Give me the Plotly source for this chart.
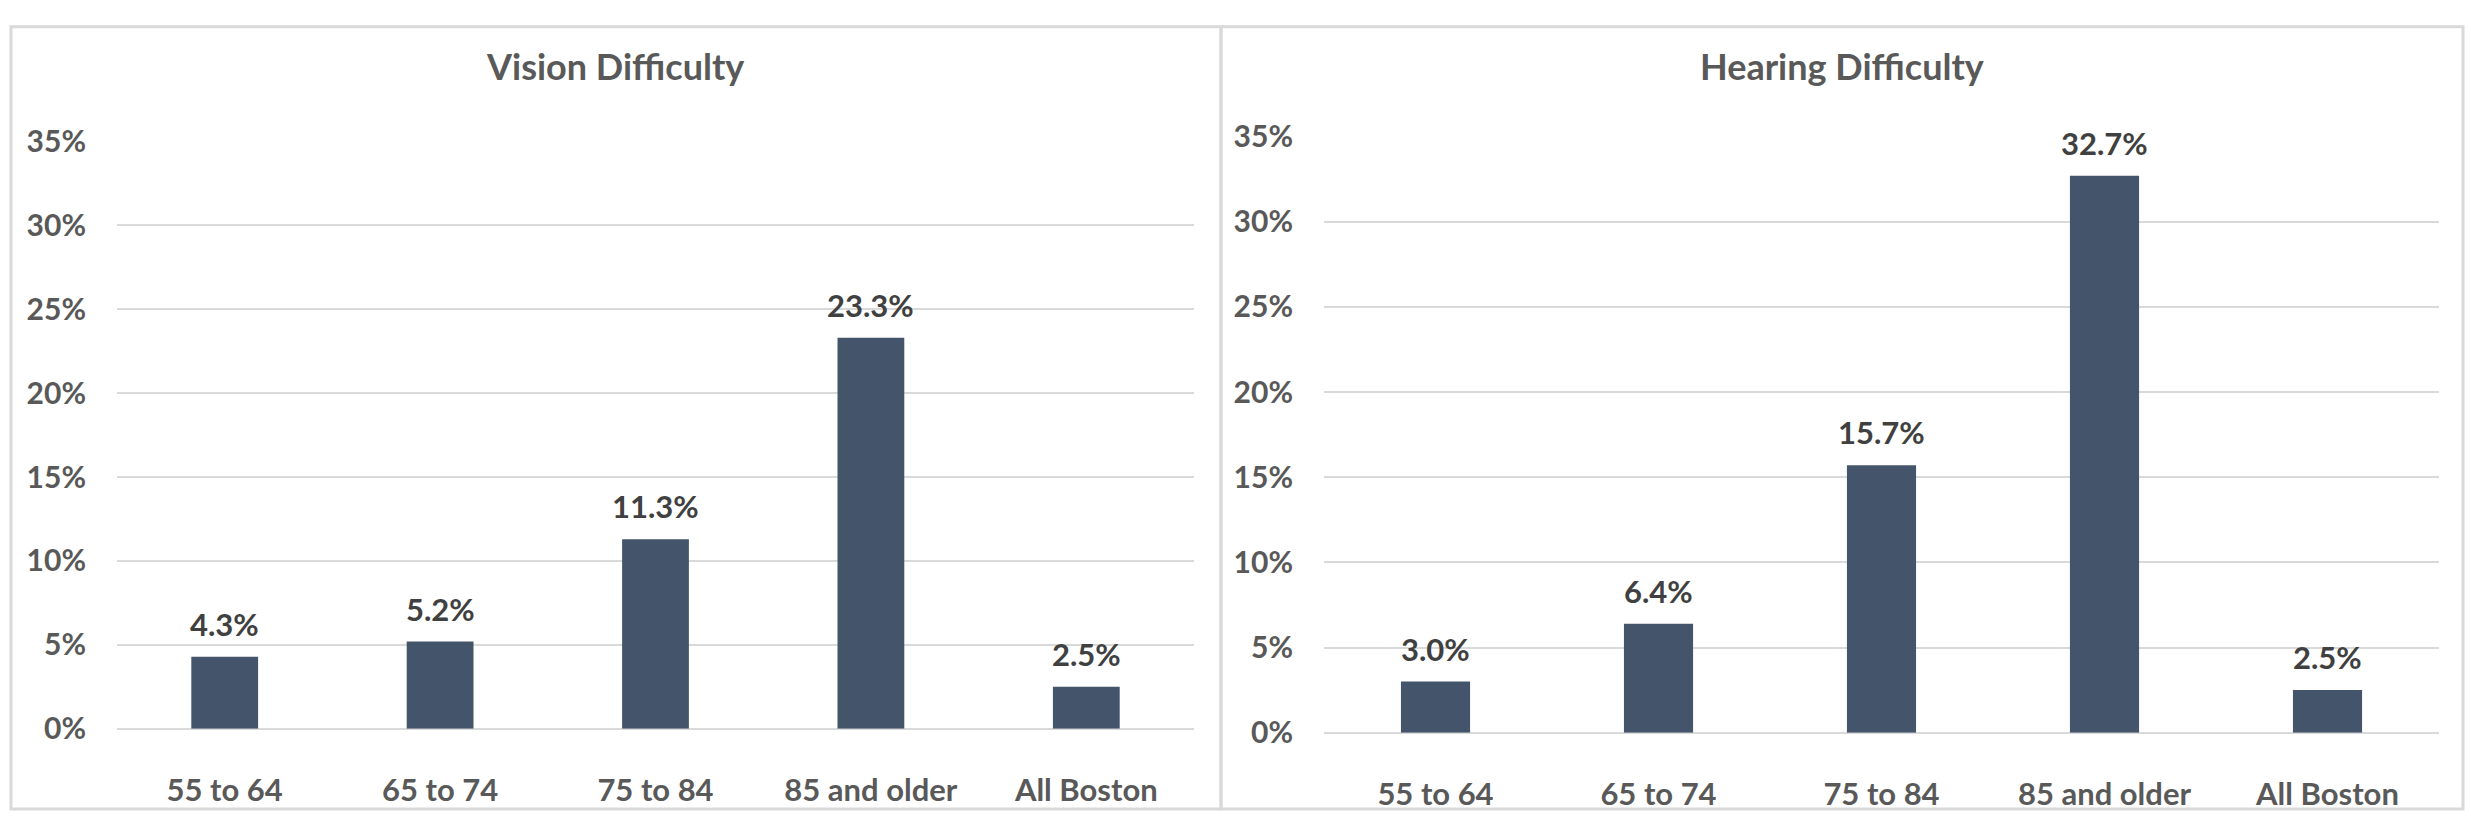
import plotly.graph_objects as go

categories = ["55 to 64", "65 to 74", "75 to 84", "85 and older", "All Boston"]
vision_values = [0.043, 0.052, 0.113, 0.233, 0.025]
hearing_values = [0.030, 0.064, 0.157, 0.327, 0.025]
panel_titles = ["Vision Difficulty", "Hearing Difficulty"]

W, H = 2471, 828
FONT = "Lato"
BAR = "#44546A"
GRAY = "#595959"
DARK = "#404040"
GRID = "#D9D9D9"

fig = go.Figure()
annotations = []
for vals, xa, ya in [(vision_values, "x", "y"), (hearing_values, "x2", "y2")]:
    fig.add_trace(go.Bar(
        x=categories, y=vals, xaxis=xa, yaxis=ya,
        marker=dict(color=BAR, line=dict(width=0)),
        width=0.31, showlegend=False, hoverinfo="skip",
    ))
    for c, v in zip(categories, vals):
        annotations.append(dict(
            x=c, y=v, xref=xa, yref=ya, text=f"{v * 100:.1f}%",
            showarrow=False, xanchor="center", yanchor="bottom", yshift=12,
            font=dict(family=FONT, size=31, color=DARK, weight="bold"),
        ))

xcommon = dict(type="category", showgrid=False, showline=False, zeroline=False,
               ticks="", tickfont=dict(family=FONT, size=31, color=GRAY, weight="bold"),
               ticklabelstandoff=40, fixedrange=True)
ycommon = dict(range=[0, 0.35], dtick=0.05, tickformat=".0%", showgrid=True,
               gridcolor=GRID, gridwidth=2, zeroline=True, zerolinecolor=GRID,
               zerolinewidth=2, showline=False, ticks="",
               tickfont=dict(family=FONT, size=30, color=GRAY, weight="bold"),
               ticklabelstandoff=30, fixedrange=True)

for i, t in enumerate(panel_titles):
    annotations.append(dict(
        text=t, xref="paper", yref="paper", x=[615, 1842][i] / W, y=(H - 48) / H,
        xanchor="center", yanchor="middle", showarrow=False,
        font=dict(family=FONT, size=36, color=GRAY, weight="bold"),
    ))

fig.update_layout(
    width=W, height=H, margin=dict(l=0, r=0, t=0, b=0),
    paper_bgcolor="white", plot_bgcolor="white",
    xaxis=dict(domain=[117 / W, 1194 / W], anchor="y", **xcommon),
    yaxis=dict(domain=[(H - 742) / H, (H - 127) / H], anchor="x", **ycommon),
    xaxis2=dict(domain=[1324 / W, 2439 / W], anchor="y2", **xcommon),
    yaxis2=dict(domain=[(H - 746) / H, (H - 122) / H], anchor="x2", **ycommon),
    shapes=[
        dict(type="rect", xref="paper", yref="paper", x0=11 / W, x1=1221 / W,
             y0=(H - 826) / H, y1=(H - 7) / H, line=dict(color=GRID, width=3)),
        dict(type="rect", xref="paper", yref="paper", x0=1221 / W, x1=2463 / W,
             y0=(H - 826) / H, y1=(H - 7) / H, line=dict(color=GRID, width=3)),
    ],
    annotations=annotations,
)

fig.write_html("out.html", config={"displayModeBar": False},
               post_script="document.body.style.margin='0';document.body.style.overflow='hidden';")
